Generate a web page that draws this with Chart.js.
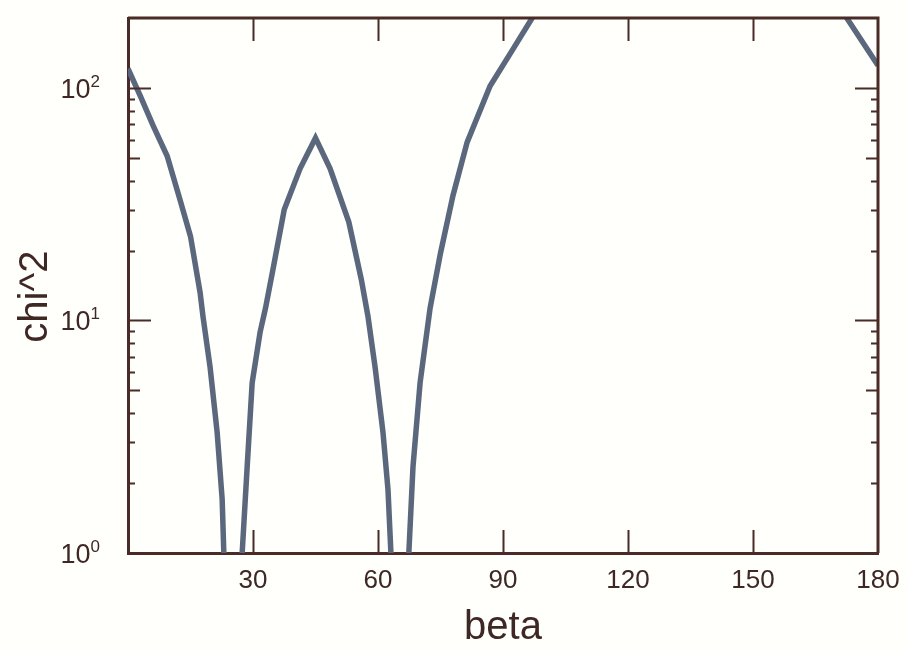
<!DOCTYPE html>
<html lang="en">
<head>
  <meta charset="UTF-8">
  <title>chi^2 vs beta</title>
  <style>
    body {
      margin: 0;
      background-color: #fffffb;
    }
    #chiChart {
      display: block;
    }
  </style>
  <script src="https://cdn.jsdelivr.net/npm/chart.js"></script>
</head>
<body>
  <canvas id="chiChart" width="908" height="653"></canvas>

  <script>
    // chi^2 scan over beta (degrees); values under 1 drop out through the bottom of the log axis,
    // values over 200 leave through the top
    const betaValues = [0, 3, 6, 9.4, 12.5, 15, 17.3, 18, 19.7, 21.4, 22.6, 23, 25, 27.4, 28.6, 29.8, 31.7, 33,
                        34.8, 37.5, 41.3, 45, 48.5, 53, 56, 57.6, 59.3, 61.2, 62.4, 63.1, 65.2, 67.4, 68.4, 70.1,
                        72.5, 75, 78, 81.4, 86.9, 92.4, 97, 100, 110, 125, 140, 155, 170, 172.5, 180];
    const chiValues = [121, 92, 69, 51, 33, 23, 13.2, 10.4, 6.3, 3.3, 1.7, 1.0, 0.1, 1.0, 2.35, 5.4, 8.9, 11.3,
                       16.6, 30, 45, 61, 45, 26.5, 15, 10.4, 6.3, 3.3, 1.87, 1.0, 0.1, 1.0, 2.35, 5.4,
                       11.3, 19.5, 34.5, 58.5, 102, 147, 200, 244, 330, 420, 430, 350, 233, 200, 125];

    const xTickValues = [30, 60, 90, 120, 150, 180];
    const yTickValues = [1, 10, 100];
    const yTickBase = '10';
    const yTickExponents = ['0', '1', '2'];
    // inward tick marks on the frame
    const xMarkValues = [30, 60, 90, 120, 150];
    const yMarkValues = [1, 2, 3, 4, 5, 6, 7, 8, 9, 10, 20, 30, 40, 50, 60, 70, 80, 90, 100];

    const axisColor = '#4a2b27';
    const textColor = '#3f2724';
    const lineColor = '#5a677c';
    const fontFamily = '"Liberation Sans", Arial, Helvetica, sans-serif';

    const points = betaValues.map((b, i) => ({ x: b, y: chiValues[i] }));

    // frame top/right edges, tick marks pointing into the plot, and 10^n labels
    const frameTicks = {
      id: 'frameTicks',
      afterDraw(chart) {
        const { ctx, chartArea: a, scales: { x, y } } = chart;
        ctx.save();
        ctx.strokeStyle = axisColor;
        ctx.lineCap = 'butt';

        ctx.lineWidth = 3;
        ctx.beginPath();
        ctx.moveTo(a.left, a.top);
        ctx.lineTo(a.right, a.top);
        ctx.lineTo(a.right, a.bottom);
        ctx.stroke();

        ctx.lineWidth = 2;
        ctx.beginPath();
        xMarkValues.forEach(v => {
          const px = Math.round(x.getPixelForValue(v)) + 0.5;
          ctx.moveTo(px, a.bottom);
          ctx.lineTo(px, a.bottom - 23);
          ctx.moveTo(px, a.top);
          ctx.lineTo(px, a.top + 23);
        });
        yMarkValues.forEach(v => {
          const py = Math.round(y.getPixelForValue(v)) + 0.5;
          const m = v / Math.pow(10, Math.floor(Math.log10(v) + 1e-9));
          const len = m === 1 ? 23 : (m === 5 ? 12 : 7);
          ctx.moveTo(a.left, py);
          ctx.lineTo(a.left + len, py);
          ctx.moveTo(a.right, py);
          ctx.lineTo(a.right - len, py);
        });
        ctx.stroke();

        // y labels: "10" with a raised exponent
        ctx.fillStyle = textColor;
        ctx.textAlign = 'right';
        ctx.textBaseline = 'alphabetic';
        const labelRight = a.left - 28;
        yTickValues.forEach((v, i) => {
          const py = y.getPixelForValue(v);
          ctx.font = '17px ' + fontFamily;
          const expW = ctx.measureText(yTickExponents[i]).width;
          ctx.fillText(yTickExponents[i], labelRight, py - 1);
          ctx.font = '27px ' + fontFamily;
          ctx.fillText(yTickBase, labelRight - expW, py + 10);
        });
        ctx.restore();
      }
    };

    const ctx = document.getElementById('chiChart').getContext('2d');
    new Chart(ctx, {
      type: 'line',
      data: {
        datasets: [{
          data: points,
          borderColor: lineColor,
          borderWidth: 5.5,
          pointRadius: 0,
          tension: 0,
          fill: false,
          clip: 0
        }]
      },
      options: {
        responsive: false,
        devicePixelRatio: 1,
        animation: false,
        layout: { padding: { top: 18, right: 30, left: 0, bottom: 0 } },
        plugins: {
          legend: { display: false },
          tooltip: { enabled: false }
        },
        scales: {
          x: {
            type: 'linear',
            min: 0,
            max: 180,
            grid: { display: false, drawTicks: false },
            border: { display: true, color: axisColor, width: 3 },
            afterBuildTicks: s => { s.ticks = xTickValues.map(v => ({ value: v })); },
            afterFit: s => {
              s.height = 100;
              s.paddingLeft = 0;
              s.paddingRight = 0;
            },
            ticks: {
              color: textColor,
              font: { family: fontFamily, size: 26 },
              padding: 12,
              maxRotation: 0,
              autoSkip: false,
              callback: v => String(v)
            },
            title: {
              display: true,
              text: 'beta',
              color: textColor,
              font: { family: fontFamily, size: 40 },
              padding: { top: 0, bottom: 1 }
            }
          },
          y: {
            type: 'logarithmic',
            min: 1,
            max: 200,
            grid: { display: false, drawTicks: false },
            border: { display: true, color: axisColor, width: 3 },
            afterBuildTicks: s => { s.ticks = yTickValues.map(v => ({ value: v })); },
            afterFit: s => {
              s.width = 128;
              s.paddingTop = 0;
              s.paddingBottom = 0;
            },
            ticks: { display: false },
            title: {
              display: true,
              // trailing spaces nudge the rotated title a little below the axis middle
              text: 'chi^2  ',
              color: textColor,
              font: { family: fontFamily, size: 40 },
              padding: { top: 12, bottom: 0 }
            }
          }
        }
      },
      plugins: [frameTicks]
    });
  </script>
</body>
</html>
